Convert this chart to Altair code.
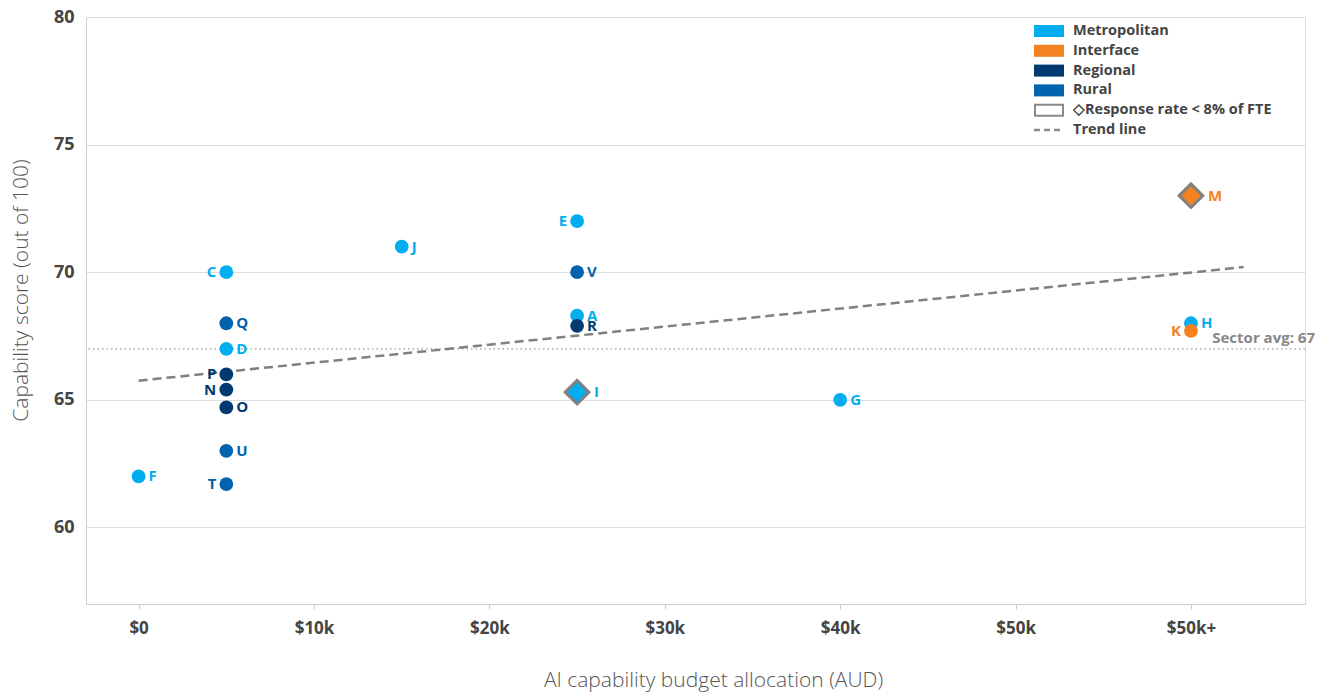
import altair as alt
import pandas as pd

FONT = "Open Sans"

# Councils: code, AI budget (thousand AUD; 60 stands for "$50k+"), capability score
codes = ["F", "C", "Q", "D", "P", "N", "O", "U", "T", "J",
         "E", "V", "A", "R", "I", "G", "H", "K", "M"]
budget_k = [0, 5, 5, 5, 5, 5, 5, 5, 5, 15,
            25, 25, 25, 25, 25, 40, 60, 60, 60]
score = [62.0, 70.0, 68.0, 67.0, 66.0, 65.4, 64.7, 63.0, 61.7, 71.0,
         72.0, 70.0, 68.3, 67.9, 65.3, 65.0, 68.0, 67.7, 73.0]
council_type = ["Metropolitan", "Metropolitan", "Rural", "Metropolitan", "Regional",
                "Regional", "Regional", "Rural", "Rural", "Metropolitan",
                "Metropolitan", "Rural", "Metropolitan", "Regional", "Metropolitan",
                "Metropolitan", "Metropolitan", "Interface", "Interface"]
low_response = [False, False, False, False, False, False, False, False, False, False,
                False, False, False, False, True, False, False, False, True]
label_side = ["right", "left", "right", "right", "left", "left", "right", "right", "left", "right",
              "left", "right", "right", "right", "right", "right", "right", "left", "right"]

type_names = ["Metropolitan", "Interface", "Regional", "Rural"]
type_colors = ["#00AEEF", "#F58220", "#003A70", "#0063AF"]

sector_avg = 67
trend_x = [0, 63]
trend_y = [65.75, 70.2]

x_tick_values = [0, 10, 20, 30, 40, 50, 60]
x_tick_labels = ["$0", "$10k", "$20k", "$30k", "$40k", "$50k", "$50k+"]
y_tick_values = [60, 65, 70, 75, 80]

legend_labels = ["Metropolitan", "Interface", "Regional", "Rural",
                 "\u25c7Response rate < 8% of FTE", "Trend line"]

W, H = 1219, 587

df = pd.DataFrame({
    "code": codes, "budget": budget_k, "score": score,
    "council_type": council_type, "low": low_response, "side": label_side,
})
trend_df = pd.DataFrame({"budget": trend_x, "score": trend_y})
avg_df = pd.DataFrame({"score": [sector_avg], "label": [f"Sector avg: {sector_avg}"]})
legend_df = pd.DataFrame({
    "row": list(range(len(legend_labels))),
    "label": legend_labels,
    "council_type": type_names + ["", ""],
})

label_expr = " : ".join(
    [f"datum.value == {v} ? '{t}'" for v, t in zip(x_tick_values, x_tick_labels)] + ["''"]
)

x_scale = alt.Scale(domain=[-3, 66.5], nice=False, zero=False)
y_scale = alt.Scale(domain=[57, 80], nice=False, zero=False)
color_scale = alt.Scale(domain=type_names, range=type_colors)

x_enc = alt.X("budget:Q", scale=x_scale, title="AI capability budget allocation (AUD)",
              axis=alt.Axis(values=x_tick_values, labelExpr=label_expr, grid=False,
                            domainColor="#cccccc", tickColor="#cccccc", tickSize=5,
                            labelFont=FONT, labelFontSize=17, labelFontWeight="bold",
                            labelColor="#444444", labelPadding=11,
                            titleFont=FONT, titleFontSize=21, titleFontWeight=300,
                            titleColor="#555555", titlePadding=33, titleX=627))
y_enc = alt.Y("score:Q", scale=y_scale, title="Capability score (out of 100)",
              axis=alt.Axis(values=y_tick_values, grid=True, gridColor="#dddddd",
                            domainColor="#cccccc", ticks=False,
                            labelFont=FONT, labelFontSize=18, labelFontWeight="bold",
                            labelColor="#444444", labelPadding=12,
                            titleFont=FONT, titleFontSize=21, titleFontWeight=300,
                            titleColor="#555555", titlePadding=22, titleY=273))
color_enc = alt.Color("council_type:N", scale=color_scale, legend=None)

avg_rule = alt.Chart(avg_df).mark_rule(color="#999999", strokeWidth=1.2,
                                       strokeDash=[1.5, 3]).encode(y=y_enc)
avg_text = alt.Chart(avg_df).mark_text(
    align="right", baseline="alphabetic", dy=-6, font=FONT, fontSize=15,
    fontWeight="bold", color="#888888"
).encode(x=alt.value(W + 10), y=y_enc, text="label:N")

trend = alt.Chart(trend_df).mark_line(color="#808080", strokeWidth=2.5,
                                      strokeDash=[9, 5]).encode(x=x_enc, y=y_enc)

base = alt.Chart(df).encode(x=x_enc, y=y_enc)

circles = base.transform_filter("!datum.low").mark_circle(size=190, opacity=1).encode(
    color=color_enc)
diamonds = base.transform_filter("datum.low").mark_point(
    shape="diamond", filled=True, size=560, opacity=1, stroke="#808080", strokeWidth=3
).encode(fill=alt.Fill("council_type:N", scale=color_scale, legend=None))

label_style = dict(baseline="middle", font=FONT, fontSize=15, fontWeight="bold")
labels_right = base.transform_filter("datum.side == 'right' && !datum.low").mark_text(
    align="left", dx=10, **label_style
).encode(text="code:N", color=color_enc)
labels_left = base.transform_filter("datum.side == 'left'").mark_text(
    align="right", dx=-10, **label_style
).encode(text="code:N", color=color_enc)
labels_diamond = base.transform_filter("datum.low").mark_text(
    align="left", dx=17, **label_style
).encode(text="code:N", color=color_enc)

main = alt.layer(avg_rule, trend, circles, diamonds,
                 labels_right, labels_left, labels_diamond, avg_text)

# Legend block in the top-right corner
row_y = alt.Y("row:Q", scale=alt.Scale(domain=[0, 5], range=[14, 113]), axis=None)
leg = alt.Chart(legend_df)
leg_swatch = leg.transform_filter("datum.row < 4").mark_tick(
    orient="horizontal", size=30, thickness=12, opacity=1
).encode(x=alt.value(963), y=row_y, color=color_enc)
leg_outline = leg.transform_filter("datum.row == 4").mark_tick(
    orient="horizontal", size=28, thickness=11, opacity=1, filled=True,
    color="white", stroke="#888888", strokeWidth=2
).encode(x=alt.value(963), y=row_y)
leg_dash = leg.transform_filter("datum.row == 5").mark_rule(
    color="#888888", strokeWidth=2.5, strokeDash=[6, 4]
).encode(x=alt.value(948), x2=alt.value(978), y=row_y)
leg_text = leg.mark_text(align="left", baseline="middle", font=FONT, fontSize=14.5,
                         fontWeight="bold", color="#444444").encode(
    x=alt.value(987), y=row_y, text="label:N")
legend = alt.layer(leg_swatch, leg_outline, leg_dash, leg_text)

chart = alt.layer(main, legend).resolve_scale(y="independent").properties(
    width=W, height=H,
    autosize=alt.AutoSizeParams(type="none"),
    padding={"left": 86, "top": 17, "right": 23, "bottom": 92},
).configure_view(stroke=None).configure(background="white")

chart.save("out.html", embed_options={"renderer": "svg", "actions": False})
